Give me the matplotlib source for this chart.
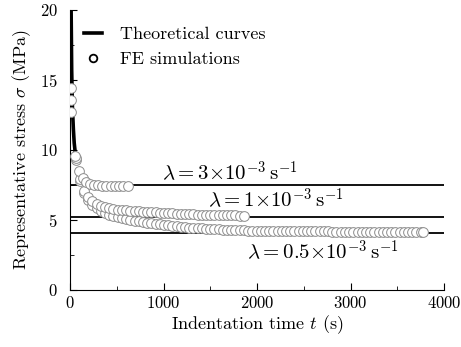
import numpy as np
import matplotlib
matplotlib.use("Agg")
import matplotlib.pyplot as plt
from matplotlib.ticker import MultipleLocator

plt.rcParams["font.family"] = "serif"
plt.rcParams["font.serif"] = ["cmr10", "DejaVu Serif"]
plt.rcParams["mathtext.fontset"] = "cm"
plt.rcParams["axes.formatter.use_mathtext"] = True

# theoretical plateau stresses (MPa)
theory_levels = [7.5, 5.2, 4.1]
# steep initial part of the theoretical curves
theory_t0 = [12, 18, 26, 36, 45, 53]
theory_s0 = [20.0, 15.7, 13.0, 11.5, 10.5, 10.0]

# FE simulations, lambda = 3e-3 /s
t_a = [15, 55, 95, 135, 175, 215, 255, 300, 345, 390, 435, 480, 525, 570, 615]
s_a = [14.4, 9.6, 8.5, 8.0, 7.75, 7.6, 7.52, 7.48, 7.45, 7.43, 7.42, 7.41,
       7.4, 7.4, 7.4]

# FE simulations, lambda = 1e-3 /s
t_b = [15, 60, 105, 150, 195, 240, 285, 330, 375, 420, 465, 510, 555, 600,
       645, 690, 735, 780, 825, 870, 915, 960, 1005, 1050, 1095, 1140, 1185,
       1230, 1275, 1320, 1365, 1410, 1455, 1500, 1545, 1590, 1635, 1680,
       1725, 1770, 1815, 1860]
s_b = [13.6, 9.4, 7.9, 7.1, 6.65, 6.35, 6.12, 5.98, 5.9, 5.84, 5.79, 5.75,
       5.72, 5.69, 5.67, 5.65, 5.62, 5.6, 5.58, 5.56, 5.54, 5.52, 5.5, 5.48,
       5.47, 5.45, 5.44, 5.42, 5.41, 5.4, 5.39, 5.38, 5.37, 5.36, 5.35, 5.35,
       5.34, 5.34, 5.33, 5.33, 5.32, 5.32]

# FE simulations, lambda = 0.5e-3 /s
t_c = [15, 60, 105, 150, 195, 240, 285, 330, 375, 420, 465, 510, 555, 600,
       645, 690, 735, 780, 825, 870, 915, 960, 1005, 1050, 1095, 1140, 1185,
       1230, 1275, 1320, 1365, 1410, 1455, 1500, 1545, 1590, 1635, 1680,
       1725, 1770, 1815, 1860, 1905, 1950, 1995, 2040, 2085, 2130, 2175,
       2220, 2265, 2310, 2355, 2400, 2445, 2490, 2535, 2580, 2625, 2670,
       2715, 2760, 2805, 2850, 2895, 2940, 2985, 3030, 3075, 3120, 3165,
       3210, 3255, 3300, 3345, 3390, 3435, 3480, 3525, 3570, 3615, 3660,
       3705, 3750, 3780]
s_c = [12.7, 9.3, 7.8, 6.9, 6.45, 6.1, 5.85, 5.65, 5.48, 5.37, 5.28, 5.2,
       5.13, 5.07, 5.01, 4.96, 4.91, 4.86, 4.82, 4.78, 4.74, 4.7, 4.66, 4.62,
       4.58, 4.55, 4.52, 4.49, 4.46, 4.44, 4.42, 4.4, 4.38, 4.36, 4.34, 4.33,
       4.31, 4.3, 4.29, 4.28, 4.27, 4.26, 4.25, 4.24, 4.23, 4.22, 4.22, 4.21,
       4.21, 4.2, 4.2, 4.2, 4.19, 4.19, 4.19, 4.19, 4.18, 4.18, 4.18, 4.18,
       4.18, 4.18, 4.17, 4.17, 4.17, 4.17, 4.17, 4.17, 4.17, 4.17, 4.17,
       4.17, 4.16, 4.16, 4.16, 4.16, 4.16, 4.16, 4.16, 4.16, 4.16, 4.16,
       4.16, 4.16, 4.16]

labels = [r"$\lambda = 3{\times}10^{-3}\,\mathrm{s}^{-1}$",
          r"$\lambda = 1{\times}10^{-3}\,\mathrm{s}^{-1}$",
          r"$\lambda = 0.5{\times}10^{-3}\,\mathrm{s}^{-1}$"]
label_pos = [(985, 7.85), (1476, 5.95), (1890, 2.2)]

fig = plt.figure(figsize=(4.61, 3.47), dpi=100)
ax = fig.add_axes([70 / 461, 57 / 347, 374 / 461, 280 / 347])

for lev in theory_levels:
    ax.plot([15, 4000], [lev, lev], color="black", lw=1.3, zorder=1)
ax.plot(theory_t0, theory_s0, color="black", lw=2.6, zorder=1,
        label="Theoretical curves")

circ = dict(marker="o", ls="none", ms=7, mfc="white", mec="#8c8c8c",
            mew=0.7, zorder=3)
ax.plot(t_c, s_c, **circ)
ax.plot(t_b, s_b, **circ)
ax.plot(t_a, s_a, **circ)

for txt, (x, y) in zip(labels, label_pos):
    ax.text(x, y, txt, fontsize=15, ha="left", va="baseline")

# legend handles
ax.plot([], [], marker="o", ls="none", ms=5.5, mfc="white", mec="black",
        mew=1.3, label="FE simulations")
ax.legend(loc="upper left", bbox_to_anchor=(-0.005, 1.0), frameon=False,
          fontsize=13, handlelength=1.0, handletextpad=1.0,
          labelspacing=0.55)

ax.set_xlim(0, 4000)
ax.set_ylim(0, 20)
ax.xaxis.set_major_locator(MultipleLocator(1000))
ax.xaxis.set_minor_locator(MultipleLocator(500))
ax.yaxis.set_major_locator(MultipleLocator(5))
ax.yaxis.set_minor_locator(MultipleLocator(2.5))
ax.tick_params(which="both", direction="in", labelsize=12)
ax.tick_params(which="major", length=5)
ax.tick_params(which="minor", length=3)
ax.tick_params(axis="y", which="major", pad=9)
ax.spines["top"].set_visible(False)
ax.spines["right"].set_visible(False)
ax.set_xlabel(r"Indentation time $t$ (s)", fontsize=13, labelpad=2)
ax.set_ylabel(r"Representative stress $\sigma$ (MPa)", fontsize=13,
              labelpad=5)

fig.savefig("out.png", dpi=100)
